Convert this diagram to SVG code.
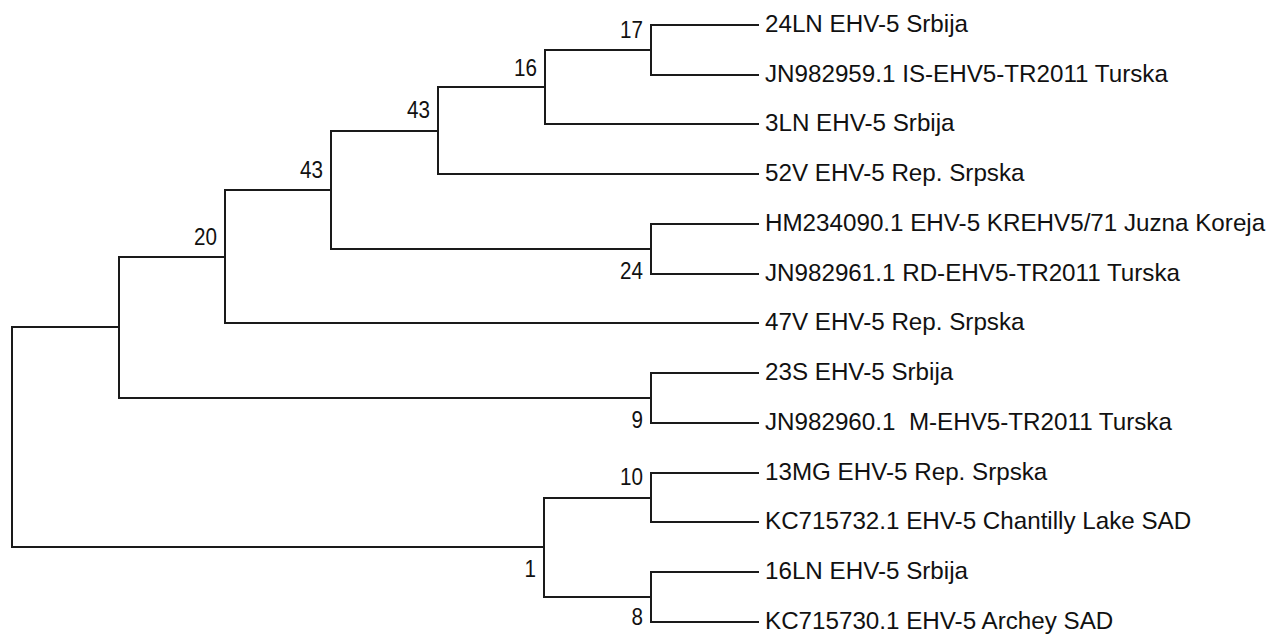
<svg xmlns="http://www.w3.org/2000/svg" width="1286" height="635" viewBox="0 0 1286 635">
<style>
.br{fill:none;stroke:#1a1a1a;stroke-width:2;stroke-linecap:square;stroke-linejoin:miter}
.lf{font-family:"Liberation Sans",Arial,sans-serif;font-size:24.2px;fill:#111}
.bs{font-family:"Liberation Sans",Arial,sans-serif;font-size:24px;fill:#111;text-anchor:end}
</style>
<rect width="1286" height="635" fill="#fff"/>
<g id="connectors">
<path class="br" d="M758,25 H651 V75 H758"/>
<path class="br" d="M651,50 H545 V124 H758"/>
<path class="br" d="M545,87 H438 V174 H758"/>
<path class="br" d="M758,224 H651 V274 H758"/>
<path class="br" d="M438,131 H331 V249 H651"/>
<path class="br" d="M331,190 H225 V323 H758"/>
<path class="br" d="M758,373 H651 V423 H758"/>
<path class="br" d="M225,257 H119 V398 H651"/>
<path class="br" d="M758,473 H651 V522 H758"/>
<path class="br" d="M758,572 H651 V622 H758"/>
<path class="br" d="M651,498 H544 V597 H651"/>
<path class="br" d="M119,327 H12 V547 H544"/>
</g>
<g id="leaf-24LN"><text class="lf" x="765" y="32">24LN EHV-5 Srbija</text></g>
<g id="leaf-JN982959"><text class="lf" x="765" y="82">JN982959.1 IS-EHV5-TR2011 Turska</text></g>
<g id="leaf-3LN"><text class="lf" x="765" y="131">3LN EHV-5 Srbija</text></g>
<g id="leaf-52V"><text class="lf" x="765" y="181">52V EHV-5 Rep. Srpska</text></g>
<g id="leaf-HM234090"><text class="lf" x="765" y="231">HM234090.1 EHV-5 KREHV5/71 Juzna Koreja</text></g>
<g id="leaf-JN982961"><text class="lf" x="765" y="281">JN982961.1 RD-EHV5-TR2011 Turska</text></g>
<g id="leaf-47V"><text class="lf" x="765" y="330">47V EHV-5 Rep. Srpska</text></g>
<g id="leaf-23S"><text class="lf" x="765" y="380">23S EHV-5 Srbija</text></g>
<g id="leaf-JN982960"><text class="lf" x="765" y="430" xml:space="preserve">JN982960.1  M-EHV5-TR2011 Turska</text></g>
<g id="leaf-13MG"><text class="lf" x="765" y="480">13MG EHV-5 Rep. Srpska</text></g>
<g id="leaf-KC715732"><text class="lf" x="765" y="529">KC715732.1 EHV-5 Chantilly Lake SAD</text></g>
<g id="leaf-16LN"><text class="lf" x="765" y="579">16LN EHV-5 Srbija</text></g>
<g id="leaf-KC715730"><text class="lf" x="765" y="629">KC715730.1 EHV-5 Archey SAD</text></g>
<g id="node-17" transform="translate(643,38) scale(0.86,1)"><text class="bs">17</text></g>
<g id="node-16" transform="translate(537,76) scale(0.86,1)"><text class="bs">16</text></g>
<g id="node-43a" transform="translate(430,118) scale(0.86,1)"><text class="bs">43</text></g>
<g id="node-43b" transform="translate(323,178) scale(0.86,1)"><text class="bs">43</text></g>
<g id="node-20" transform="translate(217,245) scale(0.86,1)"><text class="bs">20</text></g>
<g id="node-24" transform="translate(643,279) scale(0.86,1)"><text class="bs">24</text></g>
<g id="node-9" transform="translate(643,428) scale(0.86,1)"><text class="bs">9</text></g>
<g id="node-10" transform="translate(643,485) scale(0.86,1)"><text class="bs">10</text></g>
<g id="node-1" transform="translate(536,577) scale(0.86,1)"><text class="bs">1</text></g>
<g id="node-8" transform="translate(643,625) scale(0.86,1)"><text class="bs">8</text></g>
</svg>
